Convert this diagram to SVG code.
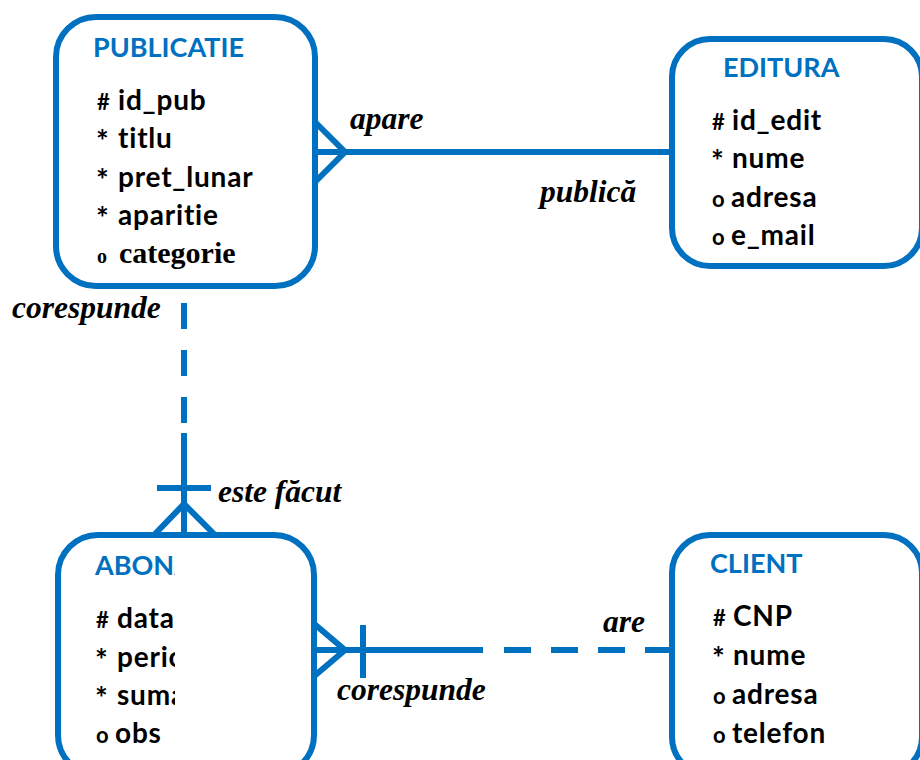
<svg xmlns="http://www.w3.org/2000/svg" width="920" height="760" viewBox="0 0 920 760">
<defs>
<style>
.box{fill:#fff;stroke:#0070C0;stroke-width:6}
.ln{stroke:#0070C0;stroke-width:6;fill:none}
.dash{stroke:#0070C0;stroke-width:6;fill:none}
.title{font-family:Lato,"Liberation Sans",sans-serif;font-weight:700;font-size:27px;fill:#0070C0}
.attr{font-family:Lato,"Liberation Sans",sans-serif;font-weight:700;font-size:28px;letter-spacing:0.8px;font-variant-ligatures:none;fill:#000}
.sym{font-size:22px;letter-spacing:0}
.star{font-size:30px;letter-spacing:0}
.lbl{font-family:"Liberation Serif",serif;font-weight:700;font-style:italic;font-size:31.5px;fill:#000}
</style>
<clipPath id="abclip"><rect x="50" y="530" width="125" height="240"/></clipPath>
</defs>
<g id="connectors">
<line class="ln" x1="315" y1="152" x2="672" y2="152"/>
<polyline class="ln" points="315,122 345,152 315,182"/>
<line class="dash" x1="184" y1="303" x2="184" y2="433" stroke-dasharray="26 21"/>
<line class="ln" x1="184" y1="433" x2="184" y2="535"/>
<line class="ln" x1="157" y1="488" x2="211" y2="488"/>
<polyline class="ln" points="155,534 184,504 214,534"/>
<line class="ln" x1="314" y1="650" x2="483" y2="650"/>
<line class="dash" x1="504" y1="650" x2="672" y2="650" stroke-dasharray="27 20"/>
<polyline class="ln" points="312,622 345,650 312,678"/>
<line class="ln" x1="363" y1="625" x2="363" y2="678"/>
</g>
<g id="PUBLICATIE">
<rect class="box" x="56" y="17" width="259" height="269" rx="40"/>
<text class="title" x="93" y="57">PUBLICATIE</text>
<text class="attr" y="110"><tspan class="sym" x="97">#</tspan><tspan x="118">id_pub</tspan></text>
<text class="attr" y="152"><tspan class="star" x="96">*</tspan><tspan x="118" y="148">titlu</tspan></text>
<text class="attr" y="191"><tspan class="star" x="96">*</tspan><tspan x="118" y="187">pret_lunar</tspan></text>
<text class="attr" y="229"><tspan class="star" x="96">*</tspan><tspan x="118" y="225">aparitie</tspan></text>
<text y="263" style="font-family:'Liberation Serif',serif;font-weight:700;fill:#000"><tspan x="97" style="font-size:20px">o</tspan><tspan x="119" style="font-size:30px">categorie</tspan></text>
</g>
<g id="EDITURA">
<rect class="box" x="672" y="39" width="250" height="227" rx="38"/>
<text class="title" x="723" y="77">EDITURA</text>
<text class="attr" y="130"><tspan class="sym" x="712">#</tspan><tspan x="732">id_edit</tspan></text>
<text class="attr" y="172"><tspan class="star" x="711">*</tspan><tspan x="732" y="168">nume</tspan></text>
<text class="attr" y="207"><tspan class="sym" x="712">o</tspan><tspan x="731">adresa</tspan></text>
<text class="attr" y="245"><tspan class="sym" x="712">o</tspan><tspan x="731">e_mail</tspan></text>
</g>
<g id="ABONAMENT">
<rect class="box" x="58" y="535" width="256" height="240" rx="40"/>
<g clip-path="url(#abclip)">
<text class="title" x="95" y="575">ABONA</text>
<text class="attr" y="628"><tspan class="sym" x="96">#</tspan><tspan x="117">data</tspan></text>
<text class="attr" y="671"><tspan class="star" x="95">*</tspan><tspan x="117" y="667">perio</tspan></text>
<text class="attr" y="709"><tspan class="star" x="95">*</tspan><tspan x="117" y="705">suma</tspan></text>
<text class="attr" y="743"><tspan class="sym" x="96">o</tspan><tspan x="115">obs</tspan></text>
</g>
</g>
<g id="CLIENT">
<rect class="box" x="672" y="535" width="250" height="240" rx="38"/>
<text class="title" x="710" y="573">CLIENT</text>
<text class="attr" y="626"><tspan class="sym" x="713">#</tspan><tspan x="733">CNP</tspan></text>
<text class="attr" y="669"><tspan class="star" x="712">*</tspan><tspan x="733" y="665">nume</tspan></text>
<text class="attr" y="704"><tspan class="sym" x="713">o</tspan><tspan x="732">adresa</tspan></text>
<text class="attr" y="743"><tspan class="sym" x="713">o</tspan><tspan x="732">telefon</tspan></text>
</g>
<g id="labels">
<text class="lbl" x="350" y="129">apare</text>
<text class="lbl" x="540" y="202">publică</text>
<text class="lbl" x="12" y="318">corespunde</text>
<text class="lbl" x="218" y="502">este făcut</text>
<text class="lbl" x="337" y="700">corespunde</text>
<text class="lbl" x="603" y="632">are</text>
</g>
</svg>
